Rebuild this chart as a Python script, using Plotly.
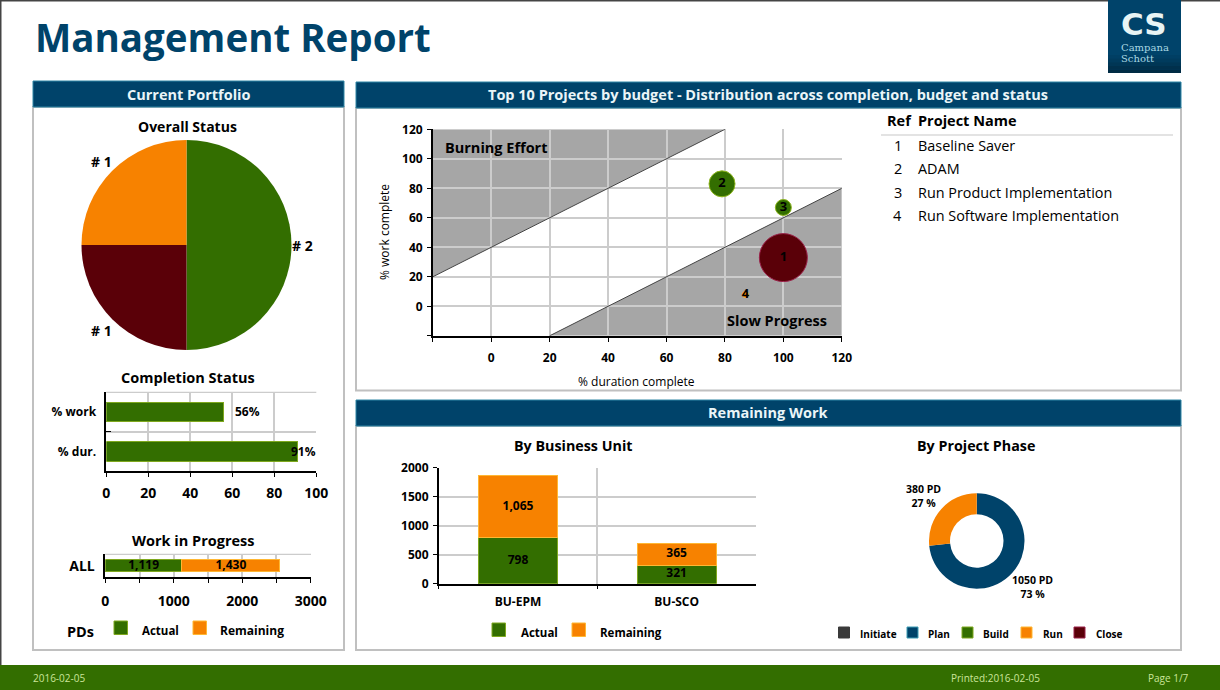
import plotly.graph_objects as go

# ---- data ----
status_labels = ["Green", "Red", "Orange"]
status_values = [2, 1, 1]
completion_cats = ["% work", "% dur."]
completion_values = [56, 91]
wip_cat = ["ALL"]
wip_actual = [1119]
wip_remaining = [1430]
project_refs = [1, 2, 3, 4]
project_names = ["Baseline Saver", "ADAM", "Run Product Implementation", "Run Software Implementation"]
project_duration = [100, 79, 100, 87]
project_work = [33, 83, 67, 8]
project_budget_size = [48, 26, 16, 6]
project_status = ["#5A0008", "#336E00", "#336E00", "#F78200"]
project_edge = ["#9A2048", "#8DB51E", "#8DB51E", "#FFB733"]
burn_x = [-20, 80]
burn_y = [20, 120]
slow_x = [20, 120]
slow_y = [-20, 80]
scatter_ticks = [-20, 0, 20, 40, 60, 80, 100, 120]
bu_cats = ["BU-EPM", "BU-SCO"]
bu_actual = [798, 321]
bu_remaining = [1065, 365]
phase_labels = ["Plan", "Run"]
phase_values = [1050, 380]
phase_pct = [73, 27]
phase_legend = ["Initiate", "Plan", "Build", "Run", "Close"]

# ---- style ----
W, H = 1220, 690
NAVY, GREEN, ORANGE, MAROON = "#00436A", "#336E00", "#F78200", "#5A0008"
GREEN_E, ORANGE_E, NAVY_E = "#7FA81E", "#FFB733", "#3C9DB5"
FONT = "Open Sans"
GRID = "#CCCCCC"
BAR_FONT = dict(family=FONT, size=12, color="#000000", weight=700)

def X(p): return p / W
def Y(p): return 1 - p / H

fig = go.Figure()
shapes, notes = [], []

def rect(x0, y0, x1, y1, fill="rgba(0,0,0,0)", line=None, lw=1):
    shapes.append(dict(type="rect", xref="paper", yref="paper", x0=X(x0), x1=X(x1), y0=Y(y0), y1=Y(y1),
                       fillcolor=fill, line=dict(color=line or "rgba(0,0,0,0)", width=lw if line else 0), layer="below"))

def text(x, y, s, size=12, bold=True, color="#000000", anchor="center", family=FONT, angle=0):
    notes.append(dict(xref="paper", yref="paper", x=X(x - 2 if anchor == "left" else x), y=Y(y), text=s, showarrow=False,
                      xanchor=anchor, yanchor="middle", textangle=angle,
                      font=dict(family=family, size=size, color=color, weight=700 if bold else 400)))

def swatch(x, y, size, fill, edge):
    rect(x, y, x + size, y + size, fill, edge, 1)

# page frame, footer
rect(0, 0, W, 1.5, "#444444")
rect(0, 0, 1.5, H, "#444444")
rect(0, 665, W, H, GREEN)
text(33, 678, "2016-02-05", 10, False, "#CBE59A", "left")
text(995, 678, "Printed:2016-02-05", 10, False, "#CBE59A")
text(1168, 678, "Page 1/7", 10, False, "#CBE59A")

# title and logo
text(35, 37, "Management Report", 38.5, True, NAVY, "left")
rect(1108, 0, 1181, 73, NAVY)
for i, c in enumerate(["#003F64", "#003B5D", "#003655", "#00304C", "#002B44"]):
    rect(1108, 55 + i * 3.6, 1181, 58.6 + i * 3.6, c)
text(1144, 24, "CS", 31, True, "#E8F4F4", family="DejaVu Sans")
text(1121, 47, "Campana", 10, False, "#A9D9E3", "left", "DejaVu Serif")
text(1121, 58, "Schott", 10, False, "#A9D9E3", "left", "DejaVu Serif")

# panels
for (x0, y0, x1, yh, y1, label, tx) in [
    (33, 81, 344, 107, 650, "Current Portfolio", 188),
    (356, 82, 1181, 108, 390.5, "Top 10 Projects by budget - Distribution across completion, budget and status", 768),
    (356, 400, 1181, 426, 650, "Remaining Work", 768),
]:
    rect(x0, yh, x1, y1, "#FFFFFF", "#C0C0C0", 2)
    rect(x0, y0, x1, yh, NAVY, "#2E86A5", 1)
    text(tx, (y0 + yh) / 2, label, 14.5, True, "#EAF5F8")

# Overall status pie
fig.add_trace(go.Pie(labels=status_labels, values=status_values, sort=False, direction="clockwise", rotation=0,
                     marker=dict(colors=[GREEN, MAROON, ORANGE], line=dict(width=0)), textinfo="none", hoverinfo="label+value",
                     domain=dict(x=[X(81.5), X(291.5)], y=[Y(350), Y(140)]), showlegend=False))
text(187, 126.5, "Overall Status", 14)
text(101, 161, f"# {status_values[2]}", 14)
text(302, 245.5, f"# {status_values[0]}", 14)
text(101, 330, f"# {status_values[1]}", 14)

# shared axis settings
def axis(**kw):
    d = dict(showline=True, linecolor="#000000", linewidth=1.5, showgrid=True, gridcolor=GRID, gridwidth=1.5,
             zeroline=False, ticks="outside", ticklen=4, tickcolor="#000000",
             tickfont=dict(family=FONT, size=12, color="#000000", weight=700))
    d.update(kw)
    return d

# Completion status
rect(106.3, 391.8, 316.3, 393, GRID)
fig.add_trace(go.Bar(x=completion_values, y=completion_cats, orientation="h", width=0.5, xaxis="x", yaxis="y",
                     marker=dict(color=GREEN, line=dict(color=GREEN_E, width=1)), showlegend=False))
text(188, 378, "Completion Status", 14.5)
text(247, 411.5, f"{completion_values[0]}%", 12)
text(303.5, 451.5, f"{completion_values[1]}%", 12)

# Work in progress
rect(105.3, 553.8, 311, 555, GRID)
fig.add_trace(go.Bar(x=wip_actual, y=wip_cat, orientation="h", width=0.52, xaxis="x2", yaxis="y2", name="Actual",
                     marker=dict(color=GREEN, line=dict(color=GREEN_E, width=1)), showlegend=False))
fig.add_trace(go.Bar(x=wip_remaining, y=wip_cat, orientation="h", width=0.52, xaxis="x2", yaxis="y2", name="Remaining",
                     marker=dict(color=ORANGE, line=dict(color=ORANGE_E, width=1)), showlegend=False))
fig.add_trace(go.Scatter(x=[wip_actual[0] / 2, wip_actual[0] + wip_remaining[0] / 2], y=wip_cat * 2, mode="text",
                         text=[f"{wip_actual[0]:,}", f"{wip_remaining[0]:,}"], xaxis="x2", yaxis="y2",
                         textfont=BAR_FONT, showlegend=False, cliponaxis=False))
text(193, 540.2, "Work in Progress", 14.5)
text(80, 631, "PDs", 14.5)
swatch(114, 621, 13.5, GREEN, GREEN_E)
text(160, 630.5, "Actual", 11.5)
swatch(193, 621, 13.5, ORANGE, ORANGE_E)
text(252, 630.5, "Remaining", 12)

# Scatter quadrant
for (bx, by, corner) in [(burn_x, burn_y, (burn_x[0], burn_y[1])), (slow_x, slow_y, (slow_x[1], slow_y[0]))]:
    shapes.append(dict(type="path", xref="x3", yref="y3", layer="below", fillcolor="#A6A6A6", line=dict(width=0),
                       path=f"M{bx[0]},{by[0]} L{bx[1]},{by[1]} L{corner[0]},{corner[1]} Z"))
    fig.add_trace(go.Scatter(x=bx, y=by, mode="lines", line=dict(color="#444444", width=1), xaxis="x3", yaxis="y3",
                             showlegend=False, hoverinfo="skip"))
fig.add_trace(go.Scatter(x=project_duration, y=project_work, mode="markers+text", text=[str(r) for r in project_refs],
                         textposition="middle center", xaxis="x3", yaxis="y3", showlegend=False,
                         textfont=dict(family=FONT, size=13, color="#000000", weight=700),
                         marker=dict(size=project_budget_size, color=project_status, opacity=1,
                                     line=dict(color=project_edge, width=1))))
text(445, 147.5, "Burning Effort", 14.5, True, anchor="left")
text(777, 320.5, "Slow Progress", 14.5)
text(384, 232, "% work complete", 12, False, angle=-90)
text(637, 381, "% duration complete", 12, False)

# Project table
text(899, 120.3, "Ref", 14.5)
text(918, 120.3, "Project Name", 14.5, True, anchor="left")
rect(881, 134.5, 1173, 135.5, "#C8C8C8")
for r, n, yy in zip(project_refs, project_names, [145.5, 168.5, 192.5, 215.5]):
    text(898, yy, str(r), 14.5, False)
    text(918, yy, n, 14.4, False, anchor="left")

# By business unit
fig.add_trace(go.Bar(x=bu_cats, y=bu_actual, width=0.5, xaxis="x4", yaxis="y4", name="Actual",
                     marker=dict(color=GREEN, line=dict(color=GREEN_E, width=1)), showlegend=False))
fig.add_trace(go.Bar(x=bu_cats, y=bu_remaining, width=0.5, xaxis="x4", yaxis="y4", name="Remaining",
                     marker=dict(color=ORANGE, line=dict(color=ORANGE_E, width=1)), showlegend=False))
fig.add_trace(go.Scatter(x=bu_cats * 2,
                         y=[a / 2 for a in bu_actual] + [a + r / 2 for a, r in zip(bu_actual, bu_remaining)],
                         text=[f"{v:,}" for v in bu_actual + bu_remaining], mode="text", xaxis="x4", yaxis="y4",
                         textfont=BAR_FONT, showlegend=False))
text(573, 445.2, "By Business Unit", 14.3)
swatch(492, 623, 13.5, GREEN, GREEN_E)
text(539, 632, "Actual", 11.5)
swatch(572, 623, 13.5, ORANGE, ORANGE_E)
text(631, 632, "Remaining", 11.5)

# By project phase
fig.add_trace(go.Pie(labels=phase_labels, values=phase_values, hole=0.56, sort=False, direction="clockwise", rotation=0,
                     marker=dict(colors=[NAVY, ORANGE], line=dict(width=0)), textinfo="none",
                     domain=dict(x=[X(929), X(1024.5)], y=[Y(588.7), Y(493.2)]), showlegend=False))
text(976, 445.2, "By Project Phase", 14.3)
text(923, 496, f"{phase_values[1]} PD<br>{phase_pct[1]} %", 10.5)
text(1032, 587, f"{phase_values[0]} PD<br>{phase_pct[0]} %", 10.5)
for name, sx, tx, fill, edge in zip(phase_legend, [838.5, 907, 962, 1021, 1074], [878, 939, 996, 1053, 1109],
                                    ["#3A3A3A", NAVY, GREEN, ORANGE, MAROON],
                                    ["#3A3A3A", NAVY_E, GREEN_E, ORANGE_E, "#9A2048"]):
    swatch(sx, 627, 11, fill, edge)
    text(tx, 633.5, name, 10)

fig.update_layout(
    width=W, height=H, margin=dict(l=0, r=0, t=0, b=0, pad=0), template="none", autosize=False,
    paper_bgcolor="#FFFFFF", plot_bgcolor="rgba(0,0,0,0)", barmode="stack", hovermode="closest",
    shapes=shapes, annotations=notes,
    xaxis=axis(domain=[X(106.3), X(316.3)], range=[0, 100], tick0=0, dtick=20, anchor="y", ticklabelstandoff=4,
               tickfont=dict(family=FONT, size=14, color="#000000", weight=700)),
    yaxis=axis(domain=[Y(471.3), Y(392.3)], type="category", range=[1.5, -0.5], tickson="boundaries", anchor="x",
               ticks="inside", ticklen=5, ticklabelstandoff=6),
    xaxis2=axis(domain=[X(105.3), X(310.7)], range=[0, 3000], tickvals=[0, 500, 1000, 1500, 2000, 2500, 3000],
                ticktext=["0", "", "1000", "", "2000", "", "3000"], anchor="y2", ticklabelstandoff=6,
                tickfont=dict(family=FONT, size=14, color="#000000", weight=700)),
    yaxis2=axis(domain=[Y(577.3), Y(554.3)], type="category", range=[-0.5, 0.5], tickson="boundaries", anchor="x2",
                ticks="inside", ticklen=5, ticklabelstandoff=6,
                tickfont=dict(family=FONT, size=14, color="#000000", weight=700)),
    xaxis3=axis(domain=[X(432.8), X(841.8)], range=[-20, 120], tickvals=scatter_ticks,
                ticktext=[""] + [str(t) for t in scatter_ticks[1:]], anchor="y3", ticklabelstandoff=6),
    yaxis3=axis(domain=[Y(335.8), Y(129.3)], range=[-20, 120], tickvals=scatter_ticks,
                ticktext=[""] + [str(t) for t in scatter_ticks[1:]], anchor="x3", ticklabelstandoff=2),
    xaxis4=axis(domain=[X(438.7), X(756)], type="category", range=[-0.5, 1.5], tickson="boundaries", anchor="y4", ticklabelstandoff=6),
    yaxis4=axis(domain=[Y(583.7), Y(467.7)], range=[0, 2000], tick0=0, dtick=500, anchor="x4", ticklabelstandoff=2),
)

fig.write_html("out.html", config={"displayModeBar": False},
               post_script="document.body.style.margin='0';document.body.style.overflow='hidden';")
